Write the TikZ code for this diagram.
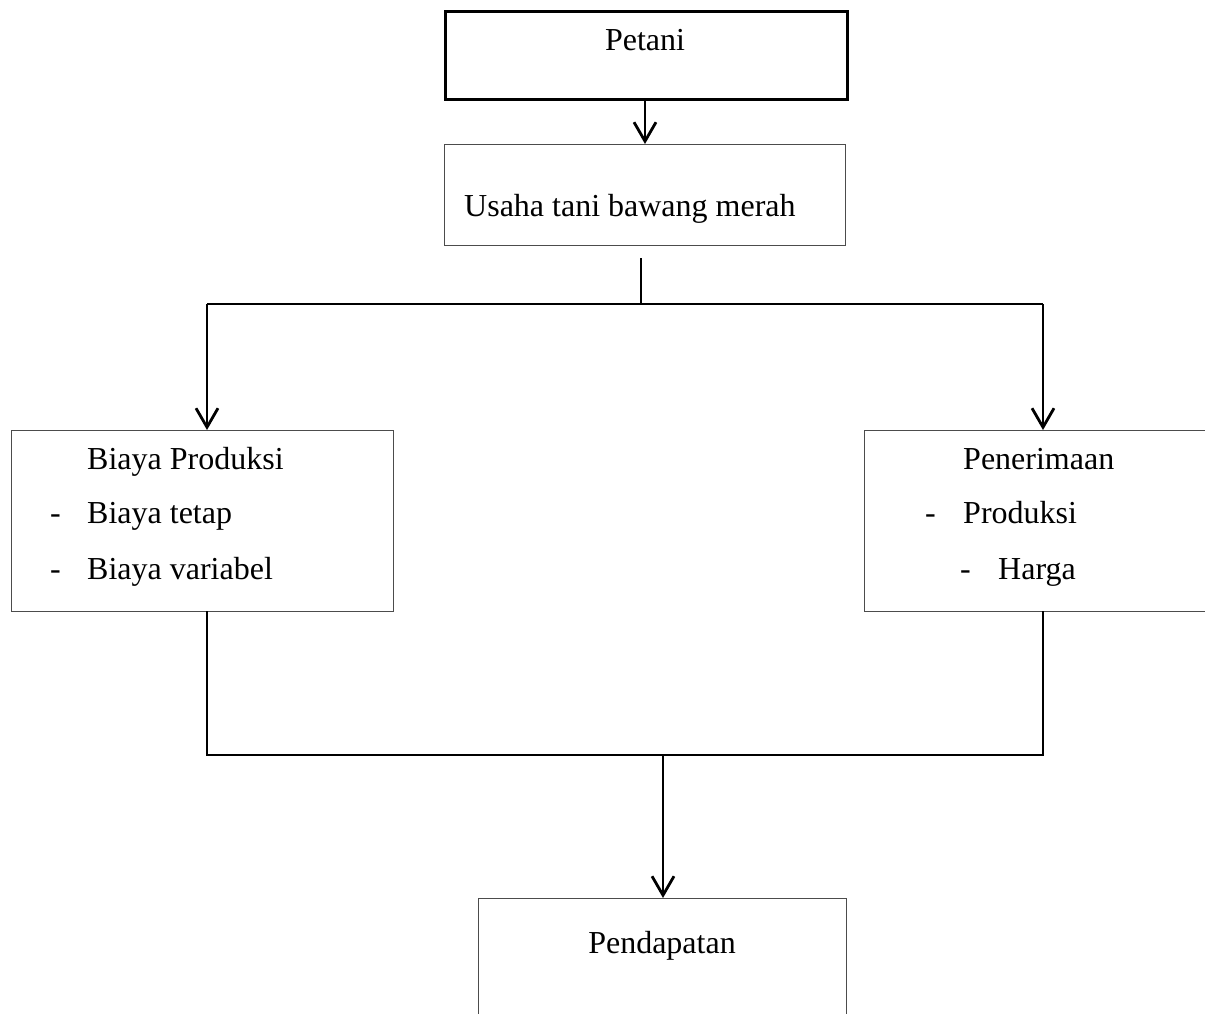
\documentclass[tikz,border=0pt]{standalone}
\usepackage{fontspec}
\setmainfont{Liberation Serif}
\usetikzlibrary{arrows.meta}
\begin{document}
\begin{tikzpicture}[x=1pt,y=-1pt,
  box/.style={draw=black!70,line width=1.4pt,rectangle,inner sep=0pt,anchor=north west},
  thickbox/.style={draw=black,line width=2.8pt,rectangle,inner sep=0pt,anchor=north west},
  txt/.style={font=\fontsize{32}{36}\selectfont,inner sep=0pt,anchor=base west},
  conn/.style={draw=black,line width=2.8pt},
  arr/.style={conn,-{Straight Barb[length=19pt,width=22pt,line width=2.8pt]}}
]
\clip (0,0) rectangle (1205,1014);
\useasboundingbox (0,0) rectangle (1205,1014);
\fill[white] (0,0) rectangle (1205,1014);

% boxes
\node[thickbox,minimum width=402pt,minimum height=88pt] (petani) at (444,10) {};
\node[box,minimum width=401pt,minimum height=101pt] (usaha) at (444,144) {};
\node[box,minimum width=382pt,minimum height=181pt] (biaya) at (11,430) {};
\node[box,minimum width=360pt,minimum height=181pt] (terima) at (864,430) {};
\node[box,minimum width=368pt,minimum height=140pt] (dapat) at (478,898) {};

% texts
\node[txt,anchor=base] (tpetani) at (645,51) {Petani};
\node[txt] (tusaha) at (464,216) {Usaha tani bawang merah};
\node[txt] (tbiaya) at (87,469) {Biaya Produksi};
\node[txt] (dash1) at (50,523) {-};
\node[txt] (tbt) at (87,523) {Biaya tetap};
\node[txt] (dash2) at (50,579) {-};
\node[txt] (tbv) at (87,579) {Biaya variabel};
\node[txt] (tterima) at (963,469) {Penerimaan};
\node[txt] (dash3) at (925,523) {-};
\node[txt] (tprod) at (963,523) {Produksi};
\node[txt] (dash4) at (960,579) {-};
\node[txt] (tharga) at (998,579) {Harga};
\node[txt,anchor=base] (tdapat) at (662,953) {Pendapatan};

% junction coordinates
\coordinate (u1) at (641,258);
\coordinate (u2) at (641,304);
\coordinate (hl) at (207,304);
\coordinate (hr) at (1043,304);
\coordinate (b1) at (207,611);
\coordinate (t1) at (1043,611);
\coordinate (bl) at (207,755);
\coordinate (br) at (1043,755);
\coordinate (mid) at (663,755);

% connectors
\draw[arr] (petani.south -| tpetani) -- (usaha.north -| tpetani);
\draw[conn] (u1) -- (u2);
\draw[conn] (hl) -- (hr);
\draw[arr] (hl) -- (hl |- biaya.north);
\draw[arr] (hr) -- (hr |- terima.north);
\draw[conn] (b1) -- (bl) -- (br) -- (t1);
\draw[arr] (mid) -- (mid |- dapat.north);
\end{tikzpicture}
\end{document}
